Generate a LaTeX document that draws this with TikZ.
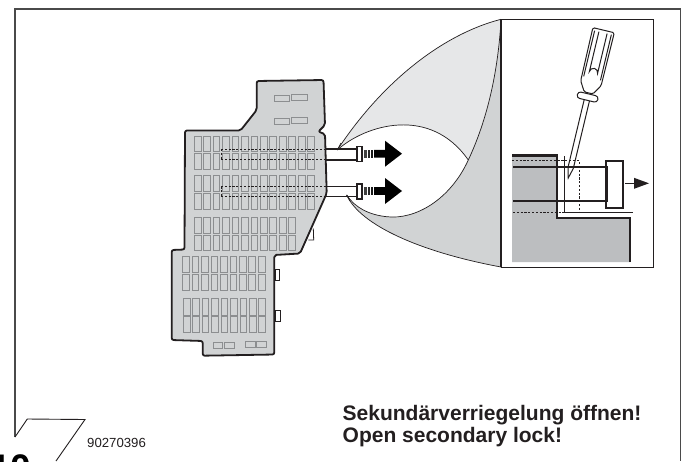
\documentclass[tikz,border=0pt]{standalone}
\usepackage{fontspec}
\setmainfont{Liberation Sans}
\definecolor{inkc}{HTML}{231F20}
\definecolor{framec}{HTML}{4A4A4A}
\definecolor{lightg}{HTML}{E6E7E8}
\definecolor{midg}{HTML}{D1D3D4}
\definecolor{panelg}{HTML}{BCBEC0}
\definecolor{slotc}{HTML}{8C8E90}
\tikzset{
  framel/.style={draw=framec,line width=1.4pt},
  boxl/.style={draw=inkc,line width=1.8pt,fill=midg,rounded corners=2pt,line join=round},
  slotbox/.style={draw=slotc,line width=0.9pt,fill=midg},
  thinc/.style={draw=inkc,line width=0.7pt},
  dashl/.style={draw=inkc,line width=0.9pt,dash pattern=on 2.2pt off 1.6pt},
  heavy/.style={draw=inkc,line width=2pt},
  tubel/.style={draw=inkc,line width=1.1pt},
  plugl/.style={draw=inkc,line width=1.3pt,fill=white},
  blk/.style={fill=black,draw=none},
  sdl/.style={draw=inkc,line width=1pt},
  caption/.style={inner sep=0pt,anchor=base west,font=\bfseries\fontsize{21}{22}\selectfont,text=inkc},
}
\newcommand{\fuserow}[5]{% x0, n, y0, y1, step
  \pgfmathsetmacro{\lastidx}{#2-1}
  \foreach \ii in {0,...,\lastidx}{
    \pgfmathsetmacro{\xa}{#1+#5*\ii}
    \draw[slotbox] (\xa,#3) rectangle (\xa+6.7,#4);
  }}
\begin{document}
\begin{tikzpicture}[x=1pt,y=-1pt]
\useasboundingbox (0,0) rectangle (684,461);
\clip (0,0) rectangle (684,461);
\fill[white] (0,0) rectangle (684,461);
% outer frame
\draw[framel] (15,437) -- (15,9) -- (680.5,9) -- (680.5,461);
\draw[draw=inkc,line width=0.9pt] (15,437) -- (27.3,419) -- (85,419.5) -- (56,461);
% bubble
\fill[lightg] (337.3,150) .. controls (380,85) and (440,35) .. (501,19.3) -- (501,60)
  .. controls (497,90) and (480,135) .. (468.3,160)
  .. controls (430,105) and (365,125) .. (337.3,150) -- cycle;
\fill[midg] (346.7,195) .. controls (355,208) and (370,215) .. (386.7,216.7)
  .. controls (415,220) and (450,200) .. (468.3,160)
  .. controls (480,135) and (497,90) .. (501,20) -- (501,267)
  .. controls (420,252) and (360,225) .. (346.7,195) -- cycle;
\draw[thinc] (337.3,150) .. controls (380,85) and (440,35) .. (501,19.3);
\draw[thinc] (337.3,150) .. controls (365,125) and (430,105) .. (468.3,160);
\draw[thinc] (501,20) .. controls (497,90) and (480,135) .. (468.3,160)
  .. controls (450,200) and (415,220) .. (386.7,216.7)
  .. controls (370,215) and (355,208) .. (346.7,195);
\draw[thinc] (346.7,195) .. controls (360,225) and (420,252) .. (501,267);
% fuse box
\draw[boxl] (256.7,110) -- (256.7,81) -- (323.5,80) -- (325,125) -- (318.3,131.7) -- (325,134)
  -- (326.7,193.3) -- (300,253.5) -- (274.3,255) -- (274.3,354.5) -- (202.7,355.7)
  -- (202.7,341) -- (171.7,340) -- (171.7,250) -- (184.5,249.5) -- (185,130.5) -- (240.5,130.5) -- cycle;
% tabs
\draw[draw=inkc,line width=0.8pt,fill=white] (275,269) rectangle (279.5,280);
\draw[draw=inkc,line width=0.8pt,fill=white] (275,310.7) rectangle (280,321.7);
\draw[draw=inkc,line width=0.8pt] (313.3,228.5) -- (313.7,240) -- (308.3,240);
% slots
\fuserow{194.3}{13}{136}{151.7}{9.45}
\fuserow{194.3}{13}{153.3}{169.3}{9.45}
\fuserow{194.3}{13}{175}{191.7}{9.45}
\fuserow{194.3}{13}{193.3}{209}{9.45}
\fuserow{194.3}{11}{217.3}{233}{9.45}
\fuserow{194.3}{11}{235}{250.7}{9.45}
\fuserow{182.7}{9}{256.7}{272.7}{9.45}
\fuserow{182.7}{9}{274.3}{290.7}{9.45}
\fuserow{183.3}{9}{298.3}{315}{9.45}
\fuserow{183.3}{9}{316}{332.7}{9.45}
\draw[slotbox] (274,95.2) rectangle (289.7,101.3);
\draw[slotbox] (291.3,94.2) rectangle (307.3,100.7);
\draw[slotbox] (274,118.2) rectangle (289.7,124.3);
\draw[slotbox] (291.3,117.2) rectangle (307.3,123.3);
\draw[slotbox] (213.3,342) rectangle (222.7,348.3);
\draw[slotbox] (224.7,342) rectangle (234.7,348.3);
\draw[slotbox] (245.3,341) rectangle (255,347.3);
\draw[slotbox] (256.7,341) rectangle (266.7,347.3);
% tubes
\draw[tubel] (326,149) -- (357,149);
\draw[tubel] (326,160) -- (357,160);
\draw[tubel] (326,186.3) -- (357,186.3);
\draw[tubel] (326,196.7) -- (357,196.7);
\draw[dashl] (221,149) -- (326,149);
\draw[dashl] (221,159.3) -- (326,159.3);
\draw[dashl] (221,186.3) -- (326,186.3);
\draw[dashl] (221,196.3) -- (326,196.3);
\draw[dashl] (221,149) -- (221,159.3);
\draw[dashl] (221,186.3) -- (221,196.3);
\draw[plugl] (357,146.8) rectangle (362,161.7);
\draw[plugl] (357,184) rectangle (362,199);
% bubble tips over tubes
\draw[thinc] (337.3,150) -- (341,143);
\draw[thinc] (346.7,195) -- (350,201);
% big arrows
\foreach \cy in {153.7,191}{
  \fill[black!75] (364.3,\cy-3.8) rectangle (366.8,\cy+3.8);
  \fill[black!85] (368,\cy-3.8) rectangle (370.2,\cy+3.8);
  \fill[black!90] (371.2,\cy-3.8) rectangle (373,\cy+3.8);
  \fill[blk] (374,\cy-3.8) -- (385,\cy-3.8) -- (385,\cy-13) -- (402,\cy) -- (385,\cy+13) -- (385,\cy+3.8) -- (374,\cy+3.8) -- cycle;
}
% inset
\draw[draw=inkc,line width=1pt] (501,19.3) -- (653,19.3) -- (653,267) -- (501,267) -- cycle;
\draw[draw=inkc,line width=1.3pt] (501,19.3) -- (501,267);
\fill[panelg] (512,155.5) -- (557.3,155.5) -- (557.3,218) -- (630,218) -- (630,262) -- (512,262) -- cycle;
% screwdriver
\begin{scope}[shift={(603.7,29.7)},rotate=-13.45]
  \draw[sdl,fill=white,rounded corners=1.5pt] (-11,0.5) -- (11,0.5) -- (10.5,55) -- (4.5,65) -- (-4.5,65) -- (-10.5,55) -- cycle;
  \draw[sdl,fill=white] (-2.7,70) -- (-2.7,142) -- (0,152.5) -- (2.7,142) -- (2.7,70) -- cycle;
  \draw[sdl,fill=white,rounded corners=3pt] (-10.5,66) rectangle (10.5,72.5);
  \draw[sdl] (-8.6,3) -- (-8.6,50);
  \draw[sdl] (8.6,3) -- (8.6,50);
  \draw[sdl] (-4.2,3) -- (-4.2,44) arc[start angle=180,end angle=360,radius=4.2] -- (4.2,3);
\end{scope}
% section lines
\draw[draw=inkc,line width=0.8pt] (564.3,156) -- (564.3,212) -- (633,212);
\draw[dashl] (512,160.8) -- (579,160.8) -- (579,212);
\draw[dashl] (513,212) -- (565,212);
\draw[heavy] (513,167.3) -- (607,167.3);
\draw[heavy] (513,201) -- (607,201);
\draw[draw=inkc,line width=2.6pt] (607,166.3) -- (607,202);
\draw[draw=inkc,line width=2pt] (605.5,161) rectangle (622.5,207.5);
\draw[draw=inkc,line width=2.2pt,line join=miter] (512,155.5) -- (557.3,155.5) -- (557.3,218) -- (630,218) -- (630,262);
% small arrow
\draw[draw=inkc,line width=1.2pt] (625,183.3) -- (635,183.3);
\fill[inkc] (634,177.8) -- (649,183.3) -- (634,188.8) -- cycle;
% texts
\node[caption] (capde) at (342.5,420) {Sekundärverriegelung öffnen!};
\node[caption] (capen) at (342.5,442) {Open secondary lock!};
\node[inner sep=0pt,anchor=base west,font=\fontsize{13.2}{15}\selectfont,text=inkc] (partno) at (87,447) {90270396};
\node[inner sep=0pt,anchor=base west,font=\bfseries\fontsize{37}{40}\selectfont,text=black] (pageno) at (-10,480.5) {10};
\end{tikzpicture}
\end{document}
